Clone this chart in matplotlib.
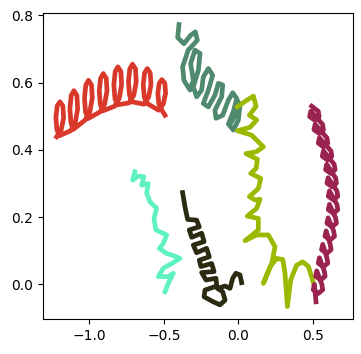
import matplotlib
matplotlib.use("Agg")
import matplotlib.pyplot as plt

# red spring of loops (x, y)
red_x = [-1.219, -1.188, -1.172, -1.177, -1.197, -1.215, -1.224, -1.217, -1.201,
         -1.125, -1.094, -1.078, -1.083, -1.103, -1.121, -1.130, -1.123, -1.107,
         -1.027, -0.996, -0.980, -0.985, -1.005, -1.023, -1.032, -1.025, -1.009,
         -0.928, -0.897, -0.881, -0.886, -0.906, -0.924, -0.933, -0.926, -0.910,
         -0.830, -0.799, -0.783, -0.788, -0.808, -0.826, -0.835, -0.828, -0.812,
         -0.732, -0.701, -0.685, -0.690, -0.710, -0.728, -0.737, -0.730, -0.714,
         -0.633, -0.602, -0.586, -0.591, -0.611, -0.629, -0.638, -0.631, -0.615,
         -0.535, -0.504, -0.488, -0.493, -0.513, -0.531, -0.540, -0.533, -0.517,
         -0.492]
red_y = [0.439, 0.460, 0.496, 0.531, 0.543, 0.531, 0.496, 0.460, 0.442,
         0.457, 0.481, 0.522, 0.562, 0.576, 0.562, 0.522, 0.481, 0.461,
         0.489, 0.513, 0.554, 0.593, 0.607, 0.593, 0.554, 0.513, 0.493,
         0.513, 0.536, 0.576, 0.613, 0.627, 0.613, 0.576, 0.536, 0.516,
         0.530, 0.553, 0.594, 0.633, 0.647, 0.633, 0.594, 0.553, 0.534,
         0.540, 0.563, 0.603, 0.641, 0.655, 0.641, 0.603, 0.563, 0.543,
         0.536, 0.557, 0.594, 0.629, 0.642, 0.629, 0.594, 0.557, 0.539,
         0.518, 0.536, 0.568, 0.598, 0.609, 0.598, 0.568, 0.536, 0.521,
         0.503]

green_x = [-0.398, -0.407, -0.365, -0.320, -0.289, -0.275,
           -0.336, -0.374, -0.365, -0.324, -0.302, -0.320, -0.291, -0.257,
           -0.268, -0.302, -0.280, -0.246, -0.235, -0.201, -0.172, -0.201,
           -0.235, -0.201, -0.157, -0.134, -0.105, -0.112, -0.157, -0.150,
           -0.105, -0.067, -0.038, -0.011, -0.034, -0.067, -0.034, 0.000,
           0.011, -0.007, -0.016, -0.045]
green_y = [0.773, 0.734, 0.716, 0.741, 0.751, 0.726,
           0.697, 0.647, 0.607, 0.578, 0.607, 0.657, 0.697, 0.687,
           0.637, 0.588, 0.558, 0.578, 0.617, 0.642, 0.622, 0.578,
           0.538, 0.528, 0.563, 0.598, 0.593, 0.558, 0.518, 0.494,
           0.503, 0.548, 0.570, 0.553, 0.513, 0.477, 0.459, 0.489,
           0.533, 0.548, 0.508, 0.484]

lime_x = [-0.007, 0.051, 0.101, 0.119, 0.074, 0.123, 0.078, -0.007, 0.089, 0.168,
          0.119, 0.051, 0.128, 0.119, 0.083, 0.150, 0.134, 0.074, 0.112, 0.145,
          0.123, 0.060, 0.134, 0.134, 0.074, 0.045, 0.123, 0.201, 0.246, 0.224,
          0.168, 0.213, 0.257, 0.298, 0.313, 0.329, 0.351, 0.391, 0.432, 0.470, 0.508]
lime_y = [0.528, 0.546, 0.560, 0.530, 0.503, 0.489, 0.467, 0.457, 0.444, 0.409,
          0.394, 0.389, 0.372, 0.345, 0.330, 0.315, 0.285, 0.261, 0.251, 0.253,
          0.226, 0.203, 0.196, 0.162, 0.140, 0.130, 0.147, 0.147, 0.112, 0.062,
          0.003, 0.053, 0.077, 0.074, 0.033, -0.066, 0.013, 0.057, 0.067, 0.053, -0.002]

maroon_x = [0.492,
            0.536, 0.542, 0.513, 0.478, 0.486, 0.565, 0.571, 0.542, 0.507, 0.515,
            0.594, 0.600, 0.571, 0.536, 0.544, 0.621, 0.627, 0.598, 0.563, 0.571,
            0.643, 0.649, 0.620, 0.585, 0.593, 0.652, 0.658, 0.629, 0.594, 0.602,
            0.661, 0.667, 0.638, 0.603, 0.611, 0.661, 0.667, 0.638, 0.603, 0.611,
            0.652, 0.658, 0.629, 0.594, 0.602, 0.639, 0.645, 0.616, 0.581, 0.589,
            0.616, 0.622, 0.593, 0.558, 0.566, 0.594, 0.600, 0.571, 0.536, 0.544,
            0.576, 0.582, 0.553, 0.518, 0.526, 0.560, 0.566, 0.537, 0.502, 0.510,
            0.521]
maroon_y = [0.530,
            0.515, 0.499, 0.488, 0.499, 0.515, 0.476, 0.460, 0.449, 0.460, 0.476,
            0.436, 0.420, 0.409, 0.420, 0.436, 0.397, 0.381, 0.370, 0.381, 0.397,
            0.357, 0.341, 0.330, 0.341, 0.357, 0.317, 0.301, 0.290, 0.301, 0.317,
            0.278, 0.262, 0.251, 0.262, 0.278, 0.238, 0.222, 0.211, 0.222, 0.238,
            0.198, 0.182, 0.171, 0.182, 0.198, 0.159, 0.143, 0.132, 0.143, 0.159,
            0.119, 0.103, 0.092, 0.103, 0.119, 0.079, 0.063, 0.052, 0.063, 0.079,
            0.040, 0.024, 0.013, 0.024, 0.040, 0.000, -0.016, -0.027, -0.016, 0.000,
            -0.052]

aqua_x = [-0.694, -0.709, -0.671, -0.633, -0.649, -0.604, -0.615, -0.593, -0.548,
          -0.566, -0.553, -0.481, -0.503, -0.530, -0.481, -0.414, -0.392, -0.447,
          -0.503, -0.537, -0.470, -0.436, -0.470, -0.492]
aqua_y = [0.335, 0.310, 0.322, 0.320, 0.295, 0.300, 0.271, 0.246, 0.226,
          0.196, 0.162, 0.147, 0.122, 0.107, 0.092, 0.082, 0.077, 0.062,
          0.048, 0.023, 0.023, 0.033, 0.003, -0.022]

dark_x = [-0.374, -0.356, -0.340, -0.280, -0.262, -0.329, -0.313, -0.246, -0.230,
          -0.302, -0.280, -0.213, -0.195, -0.262, -0.251, -0.179, -0.163, -0.246,
          -0.217, -0.150, -0.145, -0.224, -0.230, -0.168, -0.123, -0.089, -0.105,
          -0.141, -0.089, -0.056, -0.038, -0.016, 0.011, 0.022]
dark_y = [0.273, 0.226, 0.193, 0.191, 0.171, 0.162, 0.140, 0.152, 0.127,
          0.117, 0.094, 0.107, 0.082, 0.072, 0.053, 0.062, 0.038, 0.035,
          0.013, 0.018, -0.005, -0.017, -0.037, -0.052, -0.061, -0.047, -0.022,
          -0.012, -0.005, -0.012, 0.018, 0.033, 0.028, 0.005]

series = [
    (red_x, red_y, "#d8392b"),
    (green_x, green_y, "#508a6e"),
    (lime_x, lime_y, "#9cb800"),
    (maroon_x, maroon_y, "#9b2350"),
    (aqua_x, aqua_y, "#5ff2c0"),
    (dark_x, dark_y, "#2b2a12"),
]

fig = plt.figure(figsize=(3.61, 3.54), dpi=100)
ax = fig.add_axes([0.118, 0.098, 0.859, 0.866])
for xs, ys, c in series:
    ax.plot(xs, ys, color=c, linewidth=3.4)
ax.set_xlim(-1.313, 0.767)
ax.set_ylim(-0.104, 0.808)
ax.set_xticks([-1.0, -0.5, 0.0, 0.5])
ax.set_yticks([0.0, 0.2, 0.4, 0.6, 0.8])
fig.savefig("out.png", dpi=100)
